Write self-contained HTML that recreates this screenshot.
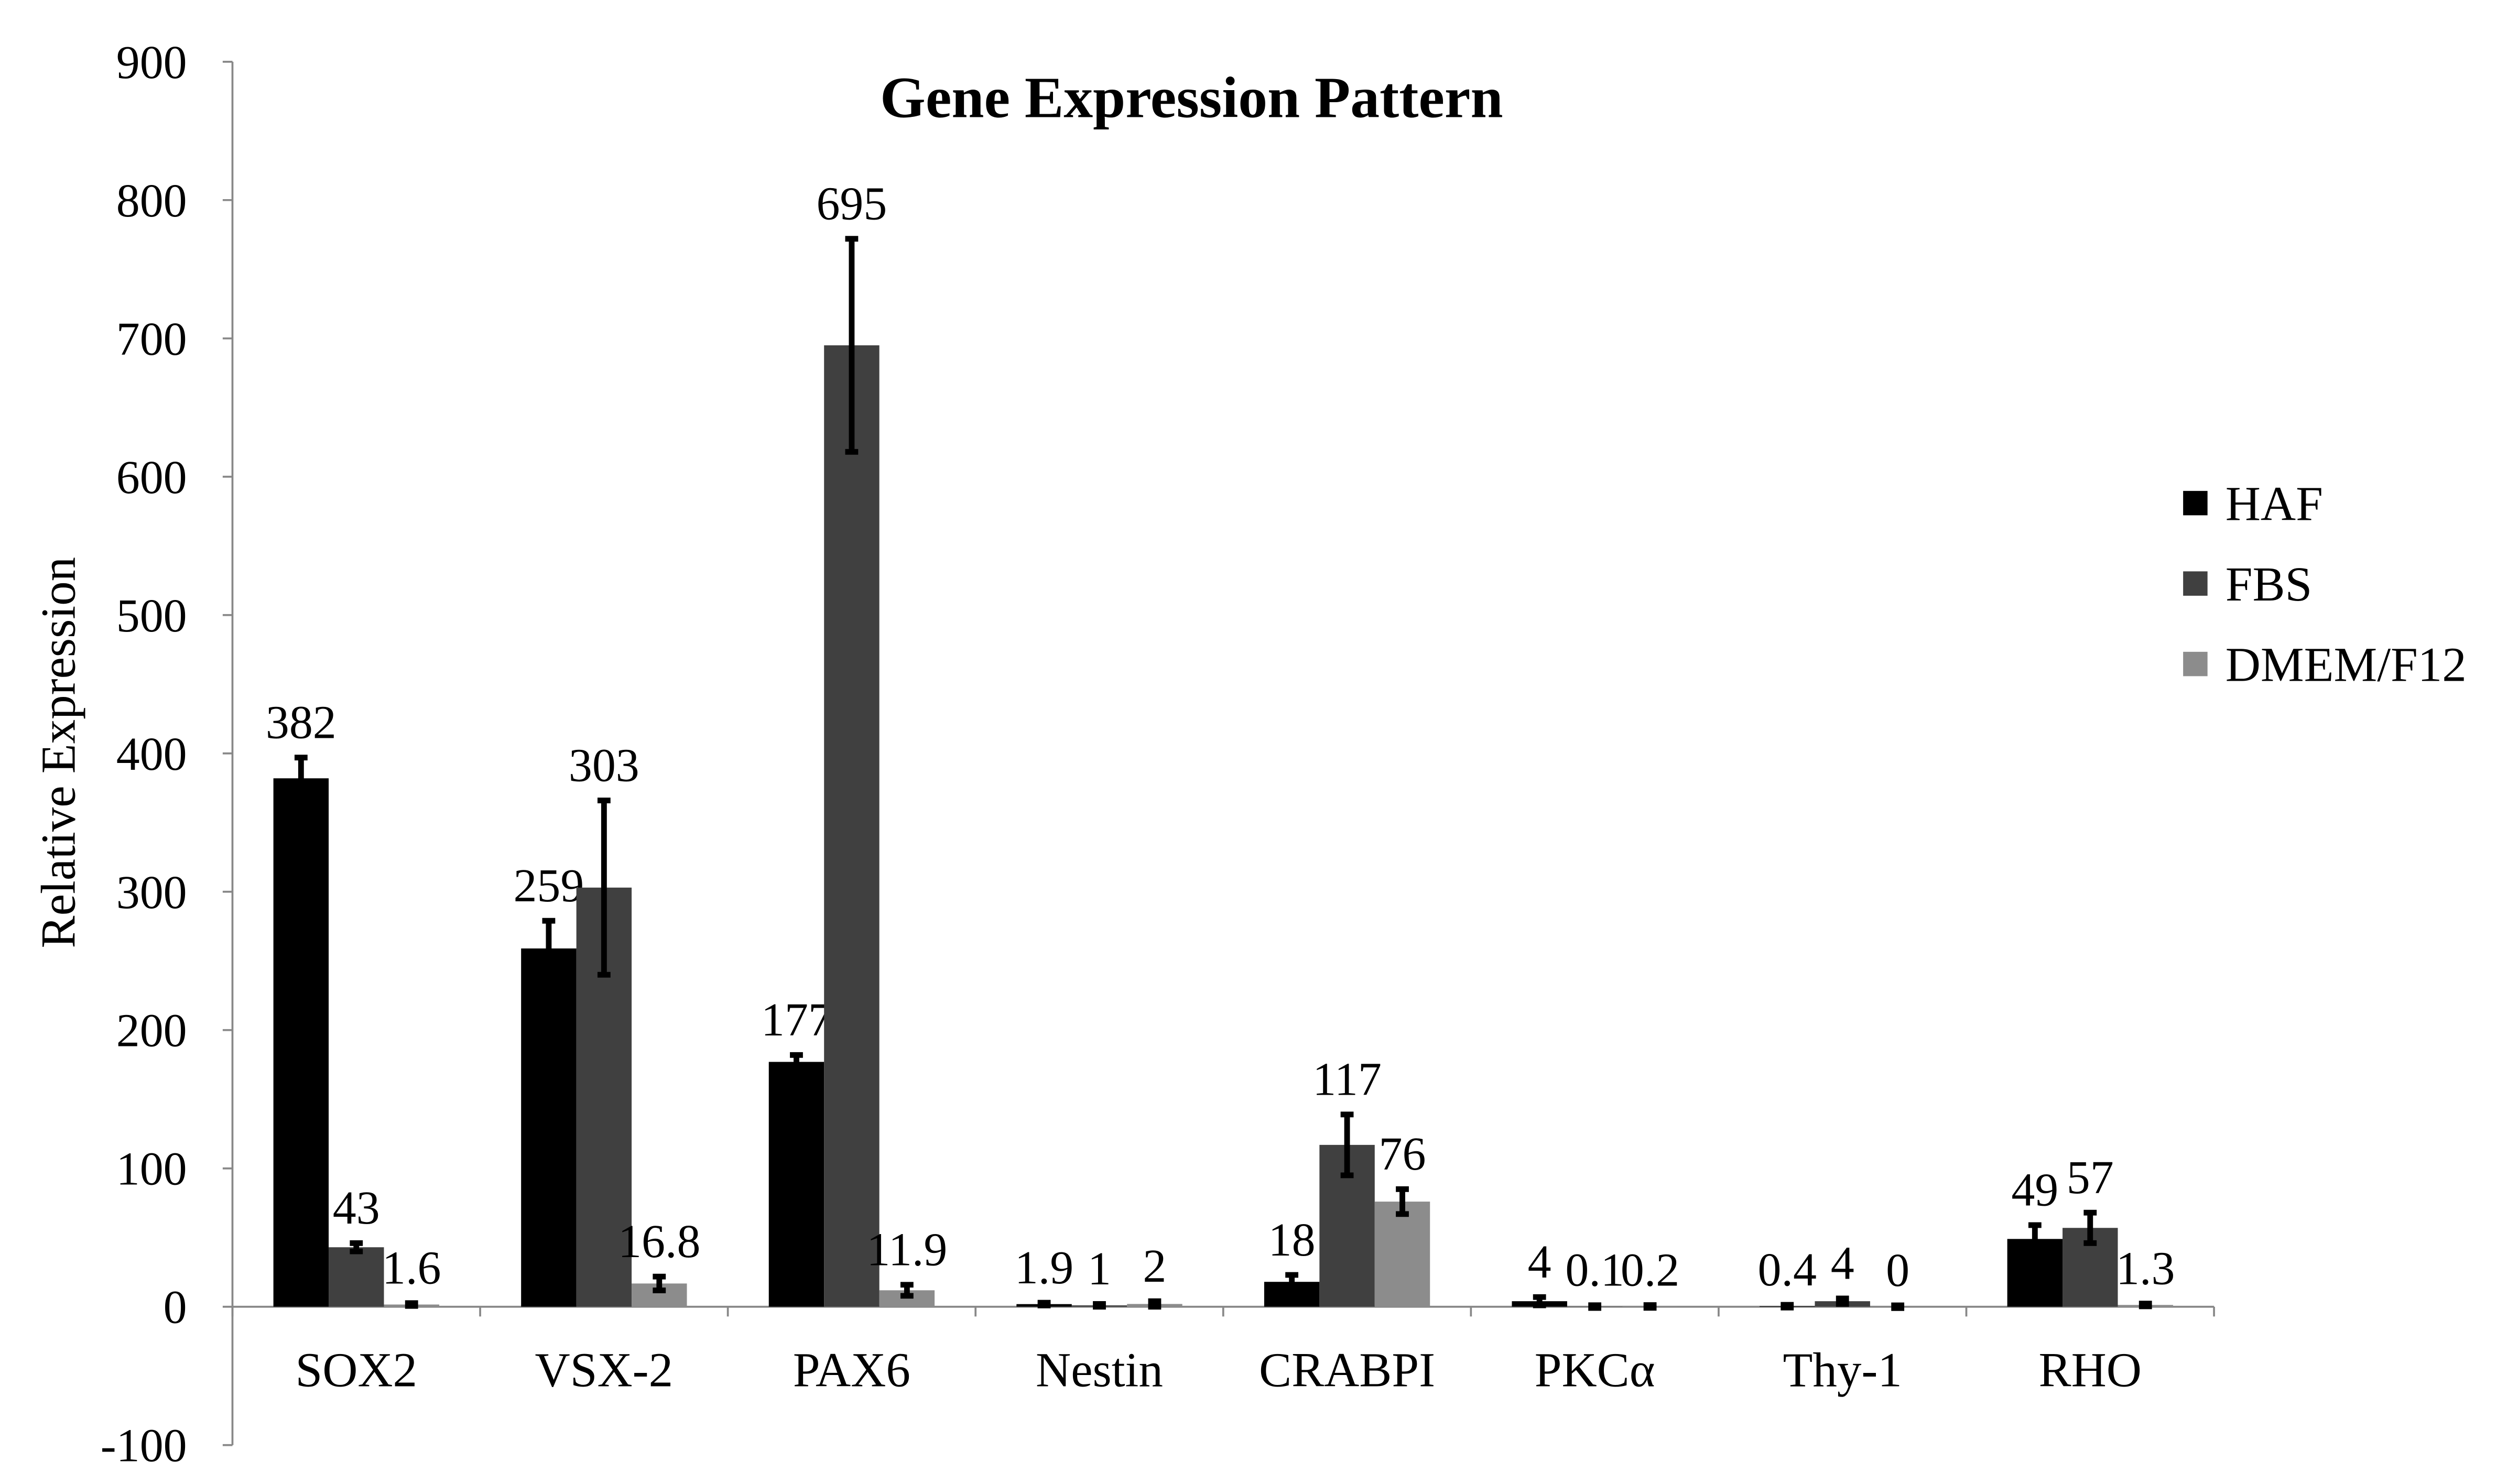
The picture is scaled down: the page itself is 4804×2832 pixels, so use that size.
<!DOCTYPE html>
<html><head><meta charset="utf-8"><style>
html,body{margin:0;padding:0;background:#fff;}
svg{display:block;font-family:"Liberation Serif",serif;}
</style></head><body>
<svg id="chart" width="4804" height="2832" viewBox="0 0 1549 913" xmlns="http://www.w3.org/2000/svg">
<rect x="0" y="0" width="1549" height="913" fill="#fff"/>
<text x="733" y="72" font-size="36" font-weight="bold" text-anchor="middle">Gene Expression Pattern</text>
<text transform="translate(46,463) rotate(-90)" font-size="30" text-anchor="middle">Relative Expression</text>
<g id="axes"></g>
<g id="bars"></g>
<g id="legend"></g>
</svg>
<script>
const categories = ["SOX2","VSX-2","PAX6","Nestin","CRABPI","PKCα","Thy-1","RHO"];
const seriesNames = ["HAF","FBS","DMEM/F12"];
const hafValues = [382,259,177,1.9,18,4,0.4,49];
const fbsValues = [43,303,695,1,117,0.1,4,57];
const dmemValues = [1.6,16.8,11.9,2,76,0.2,0,1.3];
const hafErr = [15,20,5,1,5,3,1,10];
const fbsErr = [3,63,77,1,22,1,2,11];
const dmemErr = [1,5,4,2,9,1,1,1];
const hafLabels = ["382","259","177","1.9","18","4","0.4","49"];
const fbsLabels = ["43","303","695","1","117","0.1","4","57"];
const dmemLabels = ["1.6","16.8","11.9","2","76","0.2","0","1.3"];
const yTicks = [-100,0,100,200,300,400,500,600,700,800,900];

const NS="http://www.w3.org/2000/svg";
const x0=143,x1=1362,yZero=804,pxPer=0.8512;
const y=v=>yZero-v*pxPer;
const gw=(x1-x0)/categories.length, bw=34;
function mk(tag,attrs,parent,text){const e=document.createElementNS(NS,tag);for(const k in attrs)e.setAttribute(k,attrs[k]);if(text!==undefined)e.textContent=text;parent.appendChild(e);return e;}
const axes=document.getElementById('axes');
let ax=mk('line',{x1:x0,y1:y(900),x2:x0,y2:y(-100),stroke:'#888','stroke-width':1.2},axes);


let xa=mk('line',{x1:x0,y1:yZero,x2:x1,y2:yZero,stroke:'#888','stroke-width':1.2},axes);


yTicks.forEach(t=>{
  let tk=mk('line',{x1:x0-6,y1:y(t),x2:x0,y2:y(t),stroke:'#888','stroke-width':1.2},axes);
  
  
  let tl=mk('text',{x:115,y:y(t)+10,'font-size':29,'text-anchor':'end'},axes,String(t));
  
  
});
for(let i=0;i<=categories.length;i++){
  let tk=mk('line',{x1:x0+i*gw,y1:yZero,x2:x0+i*gw,y2:yZero+6,stroke:'#888','stroke-width':1.2},axes);
  
  
}
categories.forEach((c,i)=>{
  let tl=mk('text',{x:x0+gw*(i+0.5),y:853,'font-size':30,'text-anchor':'middle'},axes,c);
  
  
});
const colors=["#000000","#404040","#8c8c8c"];
const vals=[hafValues,fbsValues,dmemValues], errs=[hafErr,fbsErr,dmemErr], labs=[hafLabels,fbsLabels,dmemLabels];
const bars=document.getElementById('bars');
categories.forEach((c,i)=>{
  const cx=x0+gw*(i+0.5);
  for(let s=0;s<3;s++){
    const v=vals[s][i], e=errs[s][i];
    const bx=cx-1.5*bw+s*bw;
    let r=mk('rect',{x:bx,y:Math.min(y(v),yZero),width:bw,height:Math.abs(y(v)-yZero),fill:colors[s]},bars);
    
    
    const mx=bx+bw/2;
    let eb=mk('path',{d:`M${mx},${y(v+e)}V${y(v-e)}M${mx-4},${y(v+e)}H${mx+4}M${mx-4},${y(v-e)}H${mx+4}`,stroke:'#000','stroke-width':3.5,fill:'none'},bars);
    
    
    let lt=mk('text',{x:mx,y:y(v+e)-12,'font-size':29,'text-anchor':'middle'},bars,labs[s][i]);
    
    
  }
});
const legend=document.getElementById('legend');
seriesNames.forEach((n,s)=>{
  const ly=310+s*49.5;
  let sw=mk('rect',{x:1343,y:ly-8,width:15,height:15,fill:colors[s]},legend);
  
  
  let lt=mk('text',{x:1369,y:ly+10,'font-size':30},legend,n);
  
  
});
</script>
</body></html>
